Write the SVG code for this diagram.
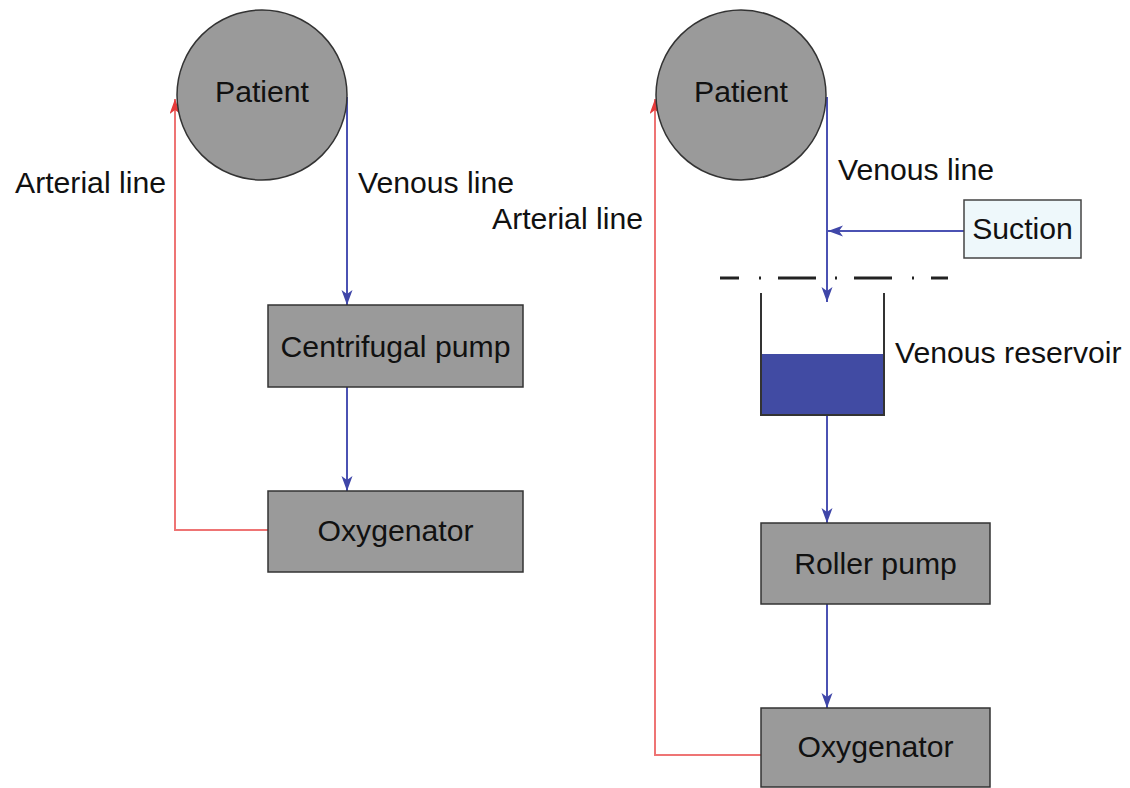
<svg xmlns="http://www.w3.org/2000/svg" width="1130" height="788" viewBox="0 0 1130 788">
<style>
.box{fill:#9a9a9a;stroke:#333;stroke-width:1.5}
.lbl{font-family:"Liberation Sans",Arial,sans-serif;font-size:30.2px;fill:#111}
.mid{text-anchor:middle}
.ven{fill:none;stroke:#4b52b3;stroke-width:2}
.art{fill:none;stroke:#ee7474;stroke-width:2}
</style>
<defs>
<marker id="ab" markerUnits="userSpaceOnUse" markerWidth="16" markerHeight="12" refX="15" refY="5.5" orient="auto">
<path d="M0,0 L15,5.5 L0,11 L4,5.5 z" fill="#3f46a8"/>
</marker>
<marker id="ar" markerUnits="userSpaceOnUse" markerWidth="16" markerHeight="12" refX="15" refY="5.5" orient="auto">
<path d="M0,0 L15,5.5 L0,11 L4,5.5 z" fill="#e53a3a"/>
</marker>
</defs>
<rect width="1130" height="788" fill="#fff"/>
<g id="connectors">
<path class="ven" d="M347,97 V305" stroke="#3d4599" marker-end="url(#ab)"/>
<path class="ven" d="M347,387 V491" marker-end="url(#ab)"/>
<path class="art" d="M268,530 H175 V99" marker-end="url(#ar)"/>
<path class="ven" d="M827,97 V302" marker-end="url(#ab)"/>
<path class="ven" d="M964,231 H828" marker-end="url(#ab)"/>
<path class="ven" d="M827,416 V523" marker-end="url(#ab)"/>
<path class="ven" d="M827,604 V708" marker-end="url(#ab)"/>
<path class="art" d="M761,755 H655 V99" marker-end="url(#ar)"/>
</g>
<g id="patient-left">
<circle cx="262" cy="95" r="85" fill="#9a9a9a" stroke="#333" stroke-width="1.5"/>
<text class="lbl mid" x="262" y="102">Patient</text>
</g>
<g id="centrifugal-pump">
<rect class="box" x="268" y="305" width="255" height="82"/>
<text class="lbl mid" x="395.5" y="357">Centrifugal pump</text>
</g>
<g id="oxygenator-left">
<rect class="box" x="268" y="491" width="255" height="81"/>
<text class="lbl mid" x="395.5" y="541">Oxygenator</text>
</g>
<g id="labels-left">
<text class="lbl" x="15" y="193">Arterial line</text>
<text class="lbl" x="358" y="193">Venous line</text>
</g>
<g id="patient-right">
<circle cx="741" cy="95" r="85" fill="#9a9a9a" stroke="#333" stroke-width="1.5"/>
<text class="lbl mid" x="741" y="102">Patient</text>
</g>
<g id="suction">
<rect x="964" y="200" width="117" height="58" fill="#eef8fb" stroke="#444" stroke-width="1.5"/>
<text class="lbl mid" x="1022.5" y="239">Suction</text>
</g>
<g id="separator">
<path d="M720,278 H739 M759,278 H761 M778,278 H816 M835,278 H837 M854,278 H892 M912,278 H914 M931,278 H948" stroke="#222" stroke-width="3" fill="none"/>
</g>
<g id="venous-reservoir">
<rect x="761" y="354" width="123" height="61" fill="#414ba3"/>
<path d="M761,293 V415 H884 V293" fill="none" stroke="#333" stroke-width="2"/>
<text class="lbl" x="895" y="363">Venous reservoir</text>
</g>
<g id="roller-pump">
<rect class="box" x="761" y="523" width="229" height="81"/>
<text class="lbl mid" x="875.5" y="574">Roller pump</text>
</g>
<g id="oxygenator-right">
<rect class="box" x="761" y="708" width="229" height="79"/>
<text class="lbl mid" x="875.5" y="757">Oxygenator</text>
</g>
<g id="labels-right">
<text class="lbl" x="492" y="229">Arterial line</text>
<text class="lbl" x="838" y="180">Venous line</text>
</g>
</svg>
